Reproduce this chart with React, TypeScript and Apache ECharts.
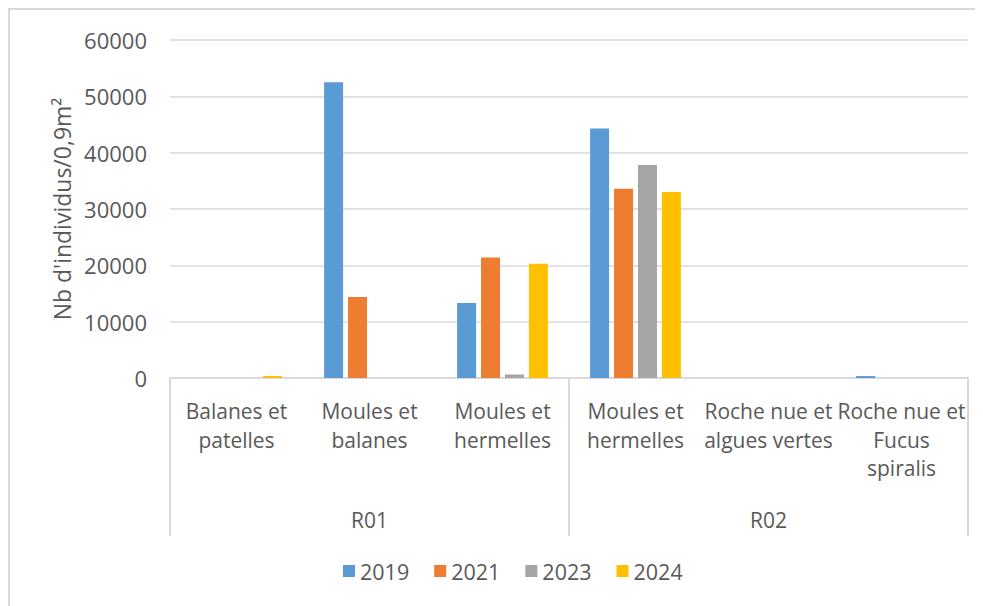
import React, { useEffect, useRef } from "react";
import * as echarts from "echarts";

const categories = [
  "Balanes et\npatelles",
  "Moules et\nbalanes",
  "Moules et\nhermelles",
  "Moules et\nhermelles",
  "Roche nue et\nalgues vertes",
  "Roche nue et\nFucus\nspiralis",
];
const groups = ["R01", "R02"];
const seriesNames = ["2019", "2021", "2023", "2024"];
const values2019 = [0, 52500, 13300, 44300, 0, 350];
const values2021 = [0, 14400, 21400, 33600, 0, 0];
const values2023 = [0, 0, 600, 37800, 0, 0];
const values2024 = [350, 0, 20300, 33000, 0, 0];
const yTicks = { min: 0, max: 60000, interval: 10000 };
const colors = ["#5B9BD5", "#ED7D31", "#A5A5A5", "#FFC000"];

const FONT = "'Open Sans', sans-serif";
const TXT = "#595959";
const LINE = "#d9d9d9";

export default function App() {
  const ref = useRef<HTMLDivElement>(null);
  useEffect(() => {
    if (!ref.current) return;
    const chart = echarts.init(ref.current, null, { renderer: "svg" });
    const all = [values2019, values2021, values2023, values2024];
    chart.setOption({
      animation: false,
      textStyle: { fontFamily: FONT },
      grid: { left: 160, right: 15, top: 30, height: 338 },
      legend: {
        data: seriesNames,
        bottom: 19,
        left: 328,
        itemWidth: 12,
        itemHeight: 12,
        itemGap: 25,
        icon: "rect",
        textStyle: { fontSize: 21.5, color: TXT, fontFamily: FONT },
      },
      xAxis: [
        {
          type: "category",
          data: categories,
          position: "bottom",
          axisLine: { show: true, lineStyle: { color: LINE, width: 2 } },
          axisTick: { show: false },
          axisLabel: {
            interval: 0,
            margin: 19,
            fontSize: 21,
            lineHeight: 28.5,
            color: TXT,
            fontFamily: FONT,
          },
        },
        {
          type: "category",
          data: groups,
          position: "bottom",
          axisLine: { show: false },
          axisTick: { show: true, length: 158, lineStyle: { color: LINE, width: 2 } },
          axisLabel: { margin: 131, fontSize: 21, color: TXT, fontFamily: FONT },
        },
      ],
      yAxis: {
        type: "value",
        min: yTicks.min,
        max: yTicks.max,
        interval: yTicks.interval,
        name: "Nb d'individus/0,9m²",
        nameLocation: "middle",
        nameGap: 96,
        nameTextStyle: { fontSize: 23, color: TXT, fontFamily: FONT },
        axisLine: { show: false },
        axisTick: { show: false },
        axisLabel: {
          fontSize: 22,
          color: TXT,
          margin: 23,
          fontFamily: FONT,
          formatter: (v: number) => String(v),
        },
        splitLine: { lineStyle: { color: LINE, width: 1.5 } },
      },
      series: seriesNames.map((n, i) => ({
        name: n,
        type: "bar",
        xAxisIndex: 0,
        data: all[i],
        barWidth: 19,
        barGap: "26%",
        itemStyle: { color: colors[i] },
      })),
    });
    return () => chart.dispose();
  }, []);
  return (
    <div
      style={{
        width: 975,
        height: 598,
        borderTop: `2px solid ${LINE}`,
        borderLeft: `2px solid ${LINE}`,
        boxSizing: "border-box",
      }}
    >
      <div ref={ref} style={{ width: 973, height: 596 }} />
    </div>
  );
}
